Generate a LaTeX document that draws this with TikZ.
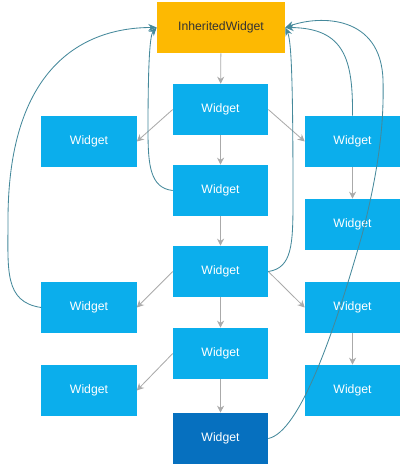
\documentclass[tikz,border=0pt]{standalone}
\usepackage{fontspec}
\setmainfont{Liberation Sans}
\usepackage{color}
\usetikzlibrary{arrows.meta}

\definecolor{wblue}{HTML}{0BAEEC}
\definecolor{wdark}{HTML}{0670BF}
\definecolor{worange}{HTML}{FDB902}
\definecolor{wgray}{HTML}{AAAAAA}
\definecolor{wteal}{HTML}{45899B}

\begin{document}
\begin{tikzpicture}[
                    x=0.025cm,
                    y=-0.025cm,
                    every node/.style={
                        rectangle,
                        inner sep=0pt,
                        minimum width=2.375cm,
                        minimum height=1.275cm,
                        fill=wblue,
                        text=white,
                        font=\fontsize{8.7}{10}\selectfont
                    },
                    down/.style={draw=wgray, line width=0.6pt, -{Stealth[length=5pt,width=5pt]}},
                    back/.style={draw=wteal, line width=0.6pt, -{Stealth[length=6pt,width=5pt]}}
                ]
                    \useasboundingbox (0,0) rectangle (400,464);

                    \node[fill=worange, text=black!80, minimum width=3.2cm] (inh) at (221,27.5) {InheritedWidget};
                    \node (w1) at (220.5,109.5) {Widget};
                    \node (w2) at (220.5,190.5) {Widget};
                    \node (w3) at (220.5,271.5) {Widget};
                    \node (w4) at (220.5,353.5) {Widget};
                    \node[fill=wdark] (w5) at (220.5,438.5) {Widget};
                    \node (l1) at (89,141.5) {Widget};
                    \node (l2) at (89,307.5) {Widget};
                    \node (l3) at (89,390.5) {Widget};
                    \node (r1) at (352.5,141.5) {Widget};
                    \node (r2) at (352.5,224.5) {Widget};
                    \node (r3) at (352.5,307.5) {Widget};
                    \node (r4) at (352.5,390.5) {Widget};

                    % Edges
                    \draw[down] (inh) -- (w1);
                    \draw[down] (w1) -- (w2);
                    \draw[down] (w2) -- (w3);
                    \draw[down] (w3) -- (w4);
                    \draw[down] (w4) -- (w5);
                    \draw[down] (w1.west) -- (l1.east);
                    \draw[down] (w1.east) -- (r1.west);
                    \draw[down] (w3.west) -- (l2.east);
                    \draw[down] (w3.east) -- (r3.west);
                    \draw[down] (w4.west) -- (l3.east);
                    \draw[down] (r1) -- (r2);
                    \draw[down] (r3) -- (r4);

                    % Lookups to the InheritedWidget
                    \draw[back] (l2.west) .. controls (4,302) and (8,270) .. (8,220)
                        .. controls (8,60) and (90,27.5) .. (inh.west);
                    \draw[back] (w2.west) .. controls (150,188) and (148,165) .. (148,130)
                        .. controls (148,60) and (150,35) .. (inh.west);
                    \draw[back] (w3.east) .. controls (292,268) and (293,245) .. (293,200)
                        .. controls (293,70) and (291,40) .. (inh.east);
                    \draw[back] (r1.north) .. controls (353,60) and (345,28) .. (inh.east);
                    \draw[back] (w5.east) .. controls (300,432) and (335,330) .. (362,235)
                        .. controls (380,165) and (384,120) .. (383,80)
                        .. controls (381,15) and (320,15) .. (inh.east);
                \end{tikzpicture}
\end{document}
